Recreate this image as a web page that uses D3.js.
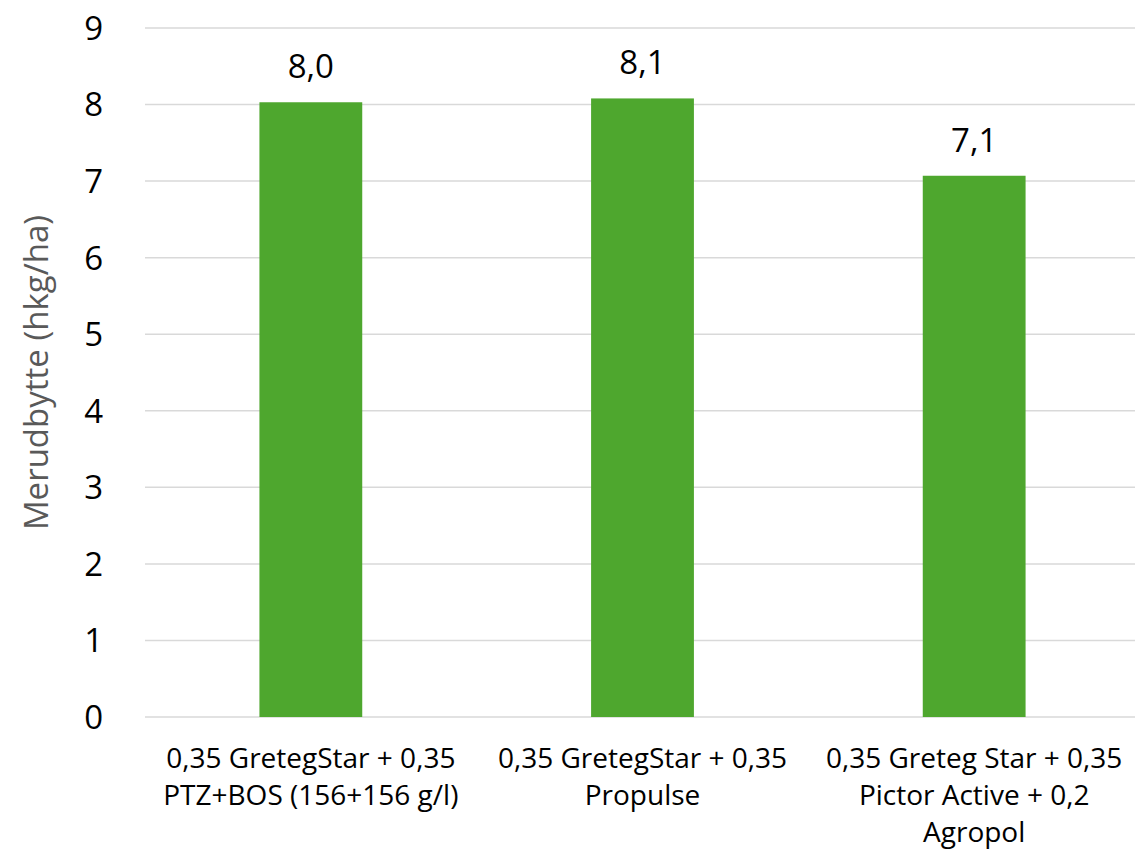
<!DOCTYPE html>
<html lang="da">
<head>
  <meta charset="UTF-8">
  <title>Merudbytte</title>
  <script src="https://d3js.org/d3.v7.min.js"></script>
  <style>
    body { margin: 0; background: white; }
    text { font-family: "Open Sans", "Liberation Sans", sans-serif; }
    .grid line { stroke: #d9d9d9; stroke-width: 1.5px; }
  </style>
</head>
<body>
  <svg id="chart" width="1135" height="851"></svg>
  <script>
    // data
    const categories = [
      ["0,35 GretegStar + 0,35", "PTZ+BOS (156+156 g/l)"],
      ["0,35 GretegStar + 0,35", "Propulse"],
      ["0,35 Greteg Star + 0,35", "Pictor Active + 0,2", "Agropol"]
    ];
    const values = [8.03, 8.08, 7.07];
    const valueLabels = ["8,0", "8,1", "7,1"];
    const yTicks = [0, 1, 2, 3, 4, 5, 6, 7, 8, 9];

    const svg = d3.select("#chart");
    const plotLeft = 145, plotRight = 1140, plotTop = 28, plotBottom = 717;

    const x = d3.scaleBand()
      .domain(d3.range(values.length))
      .range([plotLeft, plotRight])
      .paddingInner(0.69)
      .paddingOuter(0.345);

    const y = d3.scaleLinear().domain([0, 9]).range([plotBottom, plotTop]);

    // gridlines
    svg.append("g").attr("class", "grid")
      .selectAll("line").data(yTicks)
      .join("line")
      .attr("x1", plotLeft).attr("x2", plotRight)
      .attr("y1", d => y(d)).attr("y2", d => y(d));

    // y tick labels
    svg.append("g")
      .selectAll("text").data(yTicks)
      .join("text")
      .attr("x", 103)
      .attr("y", d => y(d))
      .attr("dy", "0.36em")
      .attr("text-anchor", "end")
      .attr("font-size", 33)
      .attr("fill", "#000")
      .text(d => d);

    // bars
    svg.append("g")
      .selectAll("rect").data(values)
      .join("rect")
      .attr("x", (d, i) => x(i))
      .attr("width", x.bandwidth())
      .attr("y", d => y(d))
      .attr("height", d => y(0) - y(d))
      .attr("fill", "#4ea72e");

    // value labels
    svg.append("g")
      .selectAll("text").data(values)
      .join("text")
      .attr("x", (d, i) => x(i) + x.bandwidth() / 2)
      .attr("y", d => y(d) - 24)
      .attr("text-anchor", "middle")
      .attr("font-size", 33)
      .attr("fill", "#000")
      .text((d, i) => valueLabels[i]);

    // category labels
    const cat = svg.append("g")
      .selectAll("text").data(categories)
      .join("text")
      .attr("x", (d, i) => x(i) + x.bandwidth() / 2)
      .attr("y", 768)
      .attr("text-anchor", "middle")
      .attr("font-size", 28)
      .attr("fill", "#000");
    cat.selectAll("tspan").data(d => d)
      .join("tspan")
      .attr("x", function () { return d3.select(this.parentNode).attr("x"); })
      .attr("dy", (d, j) => j === 0 ? 0 : 37)
      .text(d => d);

    // y axis title
    svg.append("text")
      .attr("transform", "translate(48," + ((plotTop + plotBottom) / 2) + ") rotate(-90)")
      .attr("text-anchor", "middle")
      .attr("font-size", 33)
      .attr("fill", "#595959")
      .text("Merudbytte (hkg/ha)");
  </script>
</body>
</html>
